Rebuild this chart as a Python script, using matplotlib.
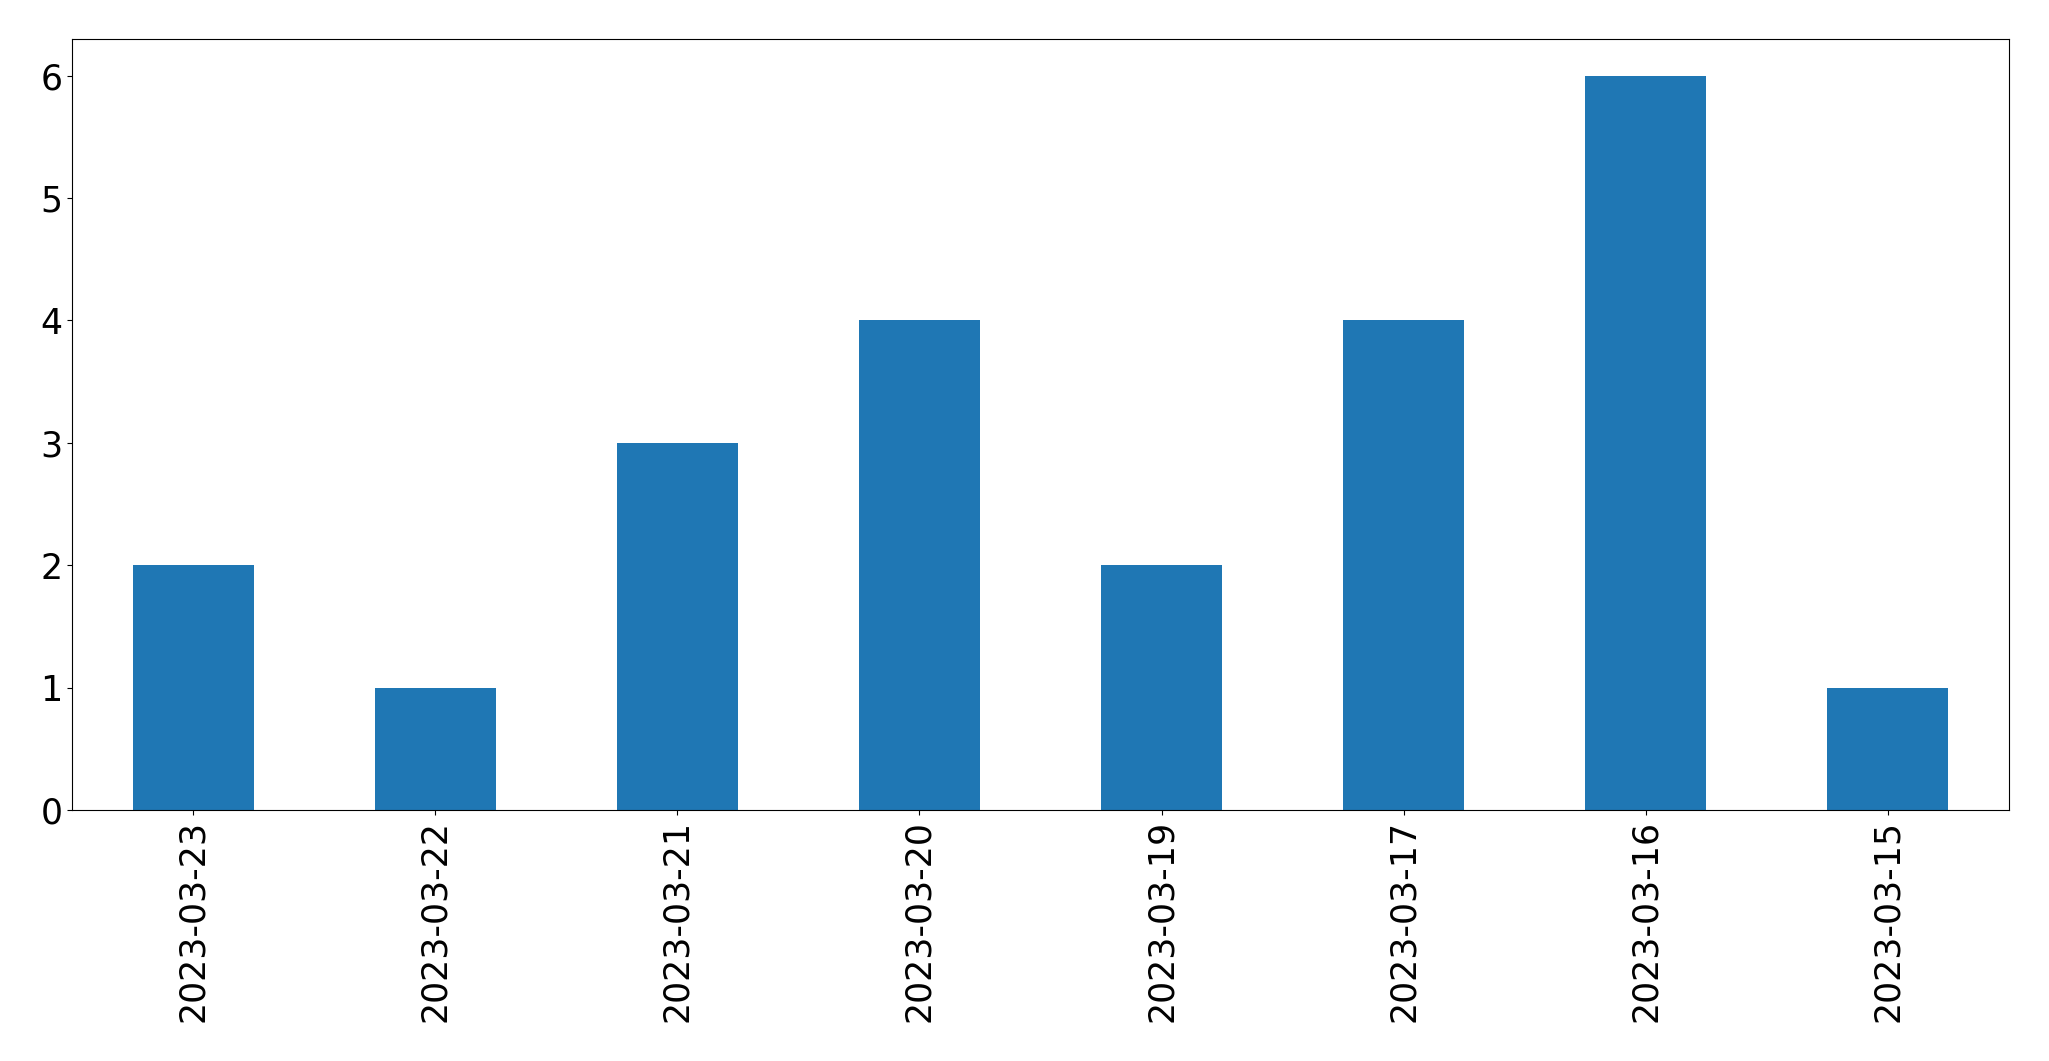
import matplotlib
matplotlib.use("Agg")
import matplotlib.pyplot as plt
import numpy as np

dates = ["2023-03-23", "2023-03-22", "2023-03-21", "2023-03-20",
         "2023-03-19", "2023-03-17", "2023-03-16", "2023-03-15"]
counts = [2, 1, 3, 4, 2, 4, 6, 1]

fig = plt.figure(figsize=(20.49, 10.61), dpi=100)
ax = fig.add_axes([72 / 2049, 1 - 810 / 1061, (2009 - 72) / 2049, (810 - 39) / 1061])

x = np.arange(len(dates))
ax.bar(x, counts, width=0.5, color="#1f77b4")
ax.set_xlim(-0.5, len(dates) - 0.5)
ax.set_ylim(0, 6.3)
ax.set_xticks(x)
ax.set_xticklabels(dates, rotation=90)
ax.tick_params(labelsize=25)

fig.savefig("out.png", dpi=100)
